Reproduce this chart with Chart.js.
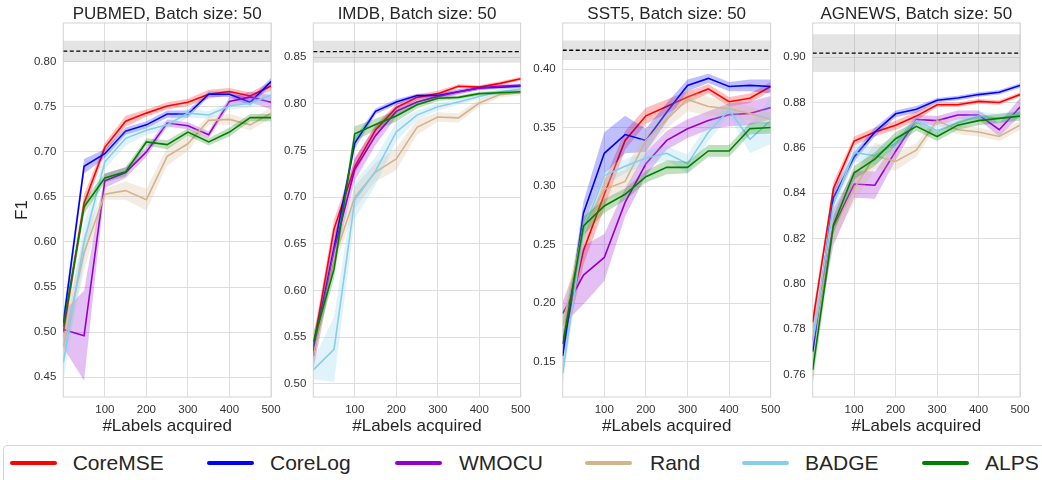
<!DOCTYPE html>
<html>
<head>
<meta charset="utf-8">
<script src="https://cdn.jsdelivr.net/npm/chart.js@4.4.1/dist/chart.umd.min.js"></script>
<style>
html,body{margin:0;padding:0;background:#fff;width:1042px;height:480px;overflow:hidden;position:relative;font-family:"Liberation Sans",Arial,sans-serif;}
canvas{position:absolute;top:0;}
#legend{position:absolute;left:3px;top:445px;width:1070px;height:44px;border:1px solid #d4d4d4;border-radius:4px;box-sizing:border-box;background:#fff;}
.sw{position:absolute;height:4px;border-radius:2px;width:47px;top:14.7px;}
.lb{position:absolute;font-size:21px;line-height:24px;color:#262626;top:4.7px;white-space:nowrap;}
</style>
</head>
<body>
<div id="legend"></div>
<script>
// ---------- data ----------
const labelsAcquired = [0, 50, 100, 150, 200, 250, 300, 350, 400, 450, 500];
const xTicks = [100, 200, 300, 400, 500];
const methods = ['CoreMSE', 'CoreLog', 'WMOCU', 'Rand', 'BADGE', 'ALPS'];
const methodColors = ['#ff0000', '#0000ff', '#9400d3', '#d2b48c', '#87ceeb', '#008000'];

const panelTitles = ['PUBMED, Batch size: 50', 'IMDB, Batch size: 50', 'SST5, Batch size: 50', 'AGNEWS, Batch size: 50'];
const fullDataF1 = [0.8117, 0.856, 0.416, 0.9018];
const fullDataStd = [0.0117, 0.0118, 0.0083, 0.0083];
const yTicksPubmed = [0.45, 0.50, 0.55, 0.60, 0.65, 0.70, 0.75, 0.80];
const yTicksImdb = [0.50, 0.55, 0.60, 0.65, 0.70, 0.75, 0.80, 0.85];
const yTicksSst5 = [0.15, 0.20, 0.25, 0.30, 0.35, 0.40];
const yTicksAgnews = [0.76, 0.78, 0.80, 0.82, 0.84, 0.86, 0.88, 0.90];
const yRangePubmed = [0.428, 0.843];
const yRangeImdb = [0.486, 0.8867];
const yRangeSst5 = [0.1198, 0.4393];
const yRangeAgnews = [0.750, 0.9151];

// mean F1, rows in the order of `methods`
const pubmedF1 = [
  [0.500, 0.643, 0.705, 0.734, 0.743, 0.751, 0.755, 0.764, 0.767, 0.762, 0.773],
  [0.510, 0.684, 0.698, 0.723, 0.730, 0.742, 0.742, 0.764, 0.764, 0.755, 0.778],
  [0.503, 0.496, 0.668, 0.677, 0.700, 0.732, 0.729, 0.719, 0.756, 0.761, 0.755],
  [0.484, 0.588, 0.653, 0.657, 0.647, 0.695, 0.709, 0.735, 0.736, 0.730, 0.743],
  [0.466, 0.600, 0.689, 0.715, 0.724, 0.730, 0.743, 0.741, 0.751, 0.754, 0.763],
  [0.506, 0.639, 0.671, 0.678, 0.711, 0.708, 0.722, 0.711, 0.722, 0.738, 0.738]
];
const pubmedSpread = [
  [0.010, 0.010, 0.005, 0.006, 0.004, 0.004, 0.004, 0.005, 0.004, 0.004, 0.005],
  [0.010, 0.008, 0.005, 0.004, 0.004, 0.004, 0.004, 0.003, 0.003, 0.004, 0.004],
  [0.020, 0.050, 0.008, 0.006, 0.005, 0.004, 0.004, 0.004, 0.005, 0.006, 0.008],
  [0.020, 0.020, 0.006, 0.010, 0.012, 0.010, 0.008, 0.005, 0.006, 0.006, 0.006],
  [0.020, 0.020, 0.008, 0.008, 0.005, 0.005, 0.005, 0.004, 0.004, 0.005, 0.006],
  [0.010, 0.008, 0.005, 0.005, 0.004, 0.005, 0.004, 0.004, 0.005, 0.004, 0.004]
];
const imdbF1 = [
  [0.540, 0.666, 0.733, 0.772, 0.796, 0.807, 0.811, 0.819, 0.818, 0.822, 0.827],
  [0.535, 0.646, 0.758, 0.792, 0.802, 0.809, 0.809, 0.813, 0.817, 0.818, 0.819],
  [0.530, 0.643, 0.730, 0.766, 0.792, 0.802, 0.808, 0.813, 0.817, 0.819, 0.820],
  [0.530, 0.634, 0.700, 0.727, 0.741, 0.775, 0.786, 0.785, 0.801, 0.810, 0.812],
  [0.515, 0.537, 0.697, 0.728, 0.770, 0.788, 0.797, 0.802, 0.808, 0.813, 0.816],
  [0.545, 0.623, 0.768, 0.778, 0.787, 0.799, 0.806, 0.807, 0.811, 0.812, 0.813]
];
const imdbSpread = [
  [0.010, 0.010, 0.008, 0.006, 0.004, 0.003, 0.003, 0.002, 0.002, 0.002, 0.002],
  [0.010, 0.008, 0.006, 0.003, 0.003, 0.002, 0.002, 0.002, 0.002, 0.002, 0.002],
  [0.015, 0.015, 0.012, 0.010, 0.006, 0.004, 0.003, 0.003, 0.002, 0.002, 0.002],
  [0.010, 0.010, 0.012, 0.010, 0.012, 0.008, 0.005, 0.005, 0.004, 0.003, 0.003],
  [0.010, 0.035, 0.020, 0.015, 0.010, 0.005, 0.004, 0.003, 0.003, 0.003, 0.003],
  [0.010, 0.010, 0.008, 0.006, 0.006, 0.004, 0.003, 0.002, 0.002, 0.002, 0.002]
];
const sst5F1 = [
  [0.165, 0.245, 0.293, 0.339, 0.360, 0.368, 0.376, 0.383, 0.372, 0.375, 0.385],
  [0.155, 0.277, 0.328, 0.344, 0.339, 0.363, 0.386, 0.392, 0.385, 0.386, 0.385],
  [0.191, 0.224, 0.239, 0.286, 0.319, 0.339, 0.349, 0.356, 0.361, 0.362, 0.367],
  [0.180, 0.265, 0.297, 0.304, 0.339, 0.357, 0.374, 0.368, 0.366, 0.362, 0.357],
  [0.140, 0.262, 0.309, 0.317, 0.324, 0.328, 0.319, 0.346, 0.365, 0.340, 0.356],
  [0.165, 0.266, 0.283, 0.293, 0.308, 0.316, 0.316, 0.330, 0.330, 0.349, 0.350]
];
const sst5Spread = [
  [0.010, 0.012, 0.012, 0.008, 0.007, 0.006, 0.005, 0.004, 0.004, 0.004, 0.004],
  [0.010, 0.010, 0.018, 0.016, 0.010, 0.008, 0.005, 0.004, 0.004, 0.005, 0.006],
  [0.010, 0.025, 0.020, 0.012, 0.010, 0.008, 0.008, 0.008, 0.010, 0.010, 0.010],
  [0.010, 0.010, 0.010, 0.010, 0.010, 0.008, 0.010, 0.008, 0.006, 0.006, 0.006],
  [0.010, 0.010, 0.008, 0.006, 0.006, 0.006, 0.008, 0.008, 0.005, 0.012, 0.020],
  [0.010, 0.008, 0.006, 0.005, 0.005, 0.006, 0.005, 0.005, 0.005, 0.005, 0.005]
];
const agnewsF1 = [
  [0.783, 0.842, 0.863, 0.867, 0.870, 0.874, 0.879, 0.879, 0.8805, 0.880, 0.8835],
  [0.770, 0.838, 0.856, 0.867, 0.875, 0.877, 0.881, 0.882, 0.8835, 0.8845, 0.8875],
  [0.775, 0.825, 0.844, 0.8435, 0.8585, 0.8725, 0.872, 0.8745, 0.8745, 0.868, 0.878],
  [0.775, 0.824, 0.842, 0.8565, 0.854, 0.859, 0.872, 0.868, 0.867, 0.865, 0.870],
  [0.775, 0.835, 0.858, 0.8565, 0.862, 0.872, 0.8675, 0.871, 0.874, 0.873, 0.875],
  [0.762, 0.826, 0.849, 0.855, 0.864, 0.8695, 0.865, 0.870, 0.872, 0.873, 0.874]
];
const agnewsSpread = [
  [0.004, 0.003, 0.002, 0.002, 0.002, 0.002, 0.001, 0.001, 0.001, 0.001, 0.001],
  [0.004, 0.003, 0.002, 0.002, 0.0015, 0.0015, 0.001, 0.001, 0.001, 0.001, 0.001],
  [0.006, 0.008, 0.006, 0.006, 0.004, 0.002, 0.002, 0.002, 0.002, 0.003, 0.004],
  [0.004, 0.005, 0.006, 0.006, 0.004, 0.003, 0.002, 0.002, 0.002, 0.002, 0.002],
  [0.004, 0.004, 0.004, 0.004, 0.003, 0.002, 0.002, 0.002, 0.002, 0.002, 0.002],
  [0.006, 0.004, 0.003, 0.003, 0.003, 0.002, 0.002, 0.002, 0.002, 0.002, 0.002]
];

// ---------- layout (not data) ----------
const FONT = '"Liberation Sans", Arial, sans-serif';
const panels = [
  {f1: pubmedF1, spread: pubmedSpread, ticks: yTicksPubmed, range: yRangePubmed, left: 0,   width: 334, yw: 63.3, pr: 63,   yTitle: 'F1'},
  {f1: imdbF1,   spread: imdbSpread,   ticks: yTicksImdb,   range: yRangeImdb,   left: 270, width: 294, yw: 43.3, pr: 43.3, yTitle: ''},
  {f1: sst5F1,   spread: sst5Spread,   ticks: yTicksSst5,   range: yRangeSst5,   left: 520, width: 293, yw: 42.7, pr: 42.3, yTitle: ''},
  {f1: agnewsF1, spread: agnewsSpread, ticks: yTicksAgnews, range: yRangeAgnews, left: 770, width: 293, yw: 42.7, pr: 43,   yTitle: ''}
];

function hexA(hex, a) {
  const n = parseInt(hex.slice(1), 16);
  return `rgba(${(n >> 16) & 255},${(n >> 8) & 255},${n & 255},${a})`;
}

const framePlugin = {
  id: 'frame',
  beforeDatasetsDraw(chart) {
    const {ctx, chartArea: a} = chart;
    ctx.save();
    ctx.strokeStyle = '#d4d4d4';
    ctx.lineWidth = 1;
    ctx.strokeRect(a.left, a.top, a.right - a.left, a.bottom - a.top);
    ctx.restore();
  }
};

// panel title centred over the plotting area (like matplotlib's axes title)
const axesTitlePlugin = {
  id: 'axesTitle',
  afterDraw(chart, args, opts) {
    const {ctx, chartArea: a} = chart;
    ctx.save();
    ctx.font = `17px ${FONT}`;
    ctx.fillStyle = '#262626';
    ctx.textAlign = 'center';
    ctx.textBaseline = 'alphabetic';
    ctx.fillText(opts.text, (a.left + a.right) / 2, 19.4);
    ctx.restore();
  }
};

panels.forEach((p, pi) => {
  const cv = document.createElement('canvas');
  cv.width = p.width; cv.height = 440;
  cv.style.left = p.left + 'px';
  cv.style.width = p.width + 'px'; cv.style.height = '440px';
  document.body.appendChild(cv);

  const xmin = labelsAcquired[0], xmax = labelsAcquired[labelsAcquired.length - 1];
  const ref = fullDataF1[pi], sd = fullDataStd[pi];
  const ds = [];
  ds.push({data: [{x: xmin, y: ref + sd}, {x: xmax, y: ref + sd}], borderWidth: 0, pointRadius: 0, fill: false});
  ds.push({data: [{x: xmin, y: ref - sd}, {x: xmax, y: ref - sd}], borderWidth: 0, pointRadius: 0, fill: '-1', backgroundColor: 'rgba(150,150,150,0.26)'});
  ds.push({data: [{x: xmin, y: ref}, {x: xmax, y: ref}], borderColor: '#000', borderWidth: 1.3, borderDash: [4, 2.5], pointRadius: 0, fill: false});

  methods.forEach((m, k) => {
    const mean = p.f1[k], s = p.spread[k], col = methodColors[k];
    ds.push({data: labelsAcquired.map((x, i) => ({x, y: mean[i] + s[i]})), borderWidth: 0, pointRadius: 0, fill: false});
    ds.push({data: labelsAcquired.map((x, i) => ({x, y: mean[i] - s[i]})), borderWidth: 0, pointRadius: 0, fill: '-1', backgroundColor: hexA(col, 0.25)});
    ds.push({label: m, data: labelsAcquired.map((x, i) => ({x, y: mean[i]})), borderColor: col, borderWidth: 1.6, pointRadius: 0, fill: false});
  });
  ds.forEach((d, i) => { d.order = -i; d.tension = 0; });

  new Chart(cv, {
    type: 'line',
    data: {datasets: ds},
    plugins: [framePlugin, axesTitlePlugin],
    options: {
      responsive: false,
      animation: false,
      devicePixelRatio: 1,
      layout: {padding: {left: 0, right: p.pr, top: 23, bottom: 0}},
      plugins: {
        legend: {display: false},
        tooltip: {enabled: false},
        title: {display: false},
        axesTitle: {text: panelTitles[pi]},
        filler: {propagate: false}
      },
      scales: {
        x: {
          type: 'linear', min: xmin, max: xmax,
          afterBuildTicks: s => { s.ticks = xTicks.map(v => ({value: v})); },
          afterFit: s => { s.height = 43; },
          grid: {color: '#dedede', lineWidth: 1, drawTicks: false},
          border: {display: false},
          ticks: {padding: 5.5, color: '#333', font: {family: FONT, size: 11.5}, maxRotation: 0, autoSkip: false, callback: v => String(v)},
          title: {display: true, text: '#Labels acquired', color: '#262626', font: {family: FONT, size: 17}, padding: {top: 0, bottom: 3.6}}
        },
        y: {
          type: 'linear', min: p.range[0], max: p.range[1],
          afterBuildTicks: s => { s.ticks = p.ticks.map(v => ({value: v})); },
          afterFit: s => { s.width = p.yw; },
          grid: {color: '#dedede', lineWidth: 1, drawTicks: false},
          border: {display: false},
          ticks: {padding: 7, color: '#333', font: {family: FONT, size: 11.5}, autoSkip: false, callback: v => Number(v).toFixed(2)},
          title: {display: p.yTitle !== '', text: p.yTitle, color: '#262626', font: {family: FONT, size: 17}, padding: {top: 12, bottom: 0}}
        }
      }
    }
  });
});

// ---------- legend ----------
const legendLineX = [10, 207, 395, 585, 742, 922];
const legendTextX = [72.7, 270, 459, 650, 805, 985];
const leg = document.getElementById('legend');
methods.forEach((m, k) => {
  const sw = document.createElement('div');
  sw.className = 'sw';
  sw.style.left = (legendLineX[k] - 4) + 'px';
  sw.style.background = methodColors[k];
  leg.appendChild(sw);
  const lb = document.createElement('div');
  lb.className = 'lb';
  lb.style.left = (legendTextX[k] - 4) + 'px';
  lb.textContent = m;
  leg.appendChild(lb);
});
</script>
</body>
</html>
